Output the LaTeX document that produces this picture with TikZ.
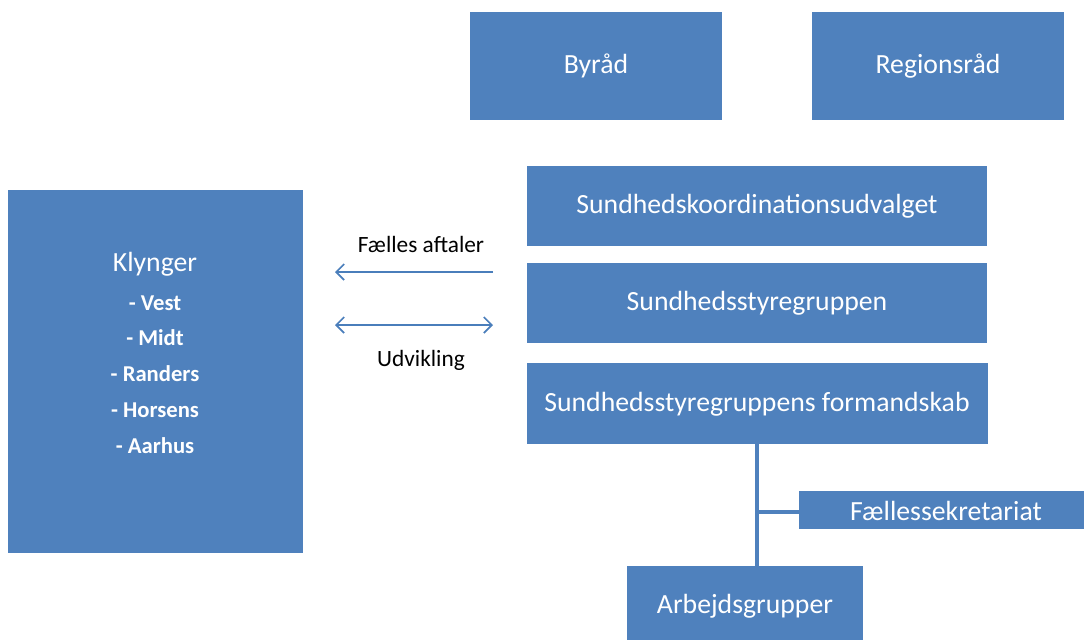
\documentclass[tikz,border=0pt]{standalone}
\usepackage{fontspec}
\setmainfont{Carlito}
\usetikzlibrary{fit,arrows.meta}
\definecolor{boxblue}{HTML}{4F81BD}
\definecolor{arrowblue}{HTML}{4A7EBB}
\tikzset{
  box/.style={fill=boxblue, draw=none, inner sep=0pt, outer sep=0pt},
  btxt/.style={text=white, inner sep=0pt, font=\fontsize{20.8}{24}\selectfont},
  itxt/.style={text=white, inner sep=0pt, font=\fontsize{17}{20}\selectfont\bfseries},
  conn/.style={draw=boxblue, line width=2.7pt},
  relarrow/.style={draw=arrowblue, line width=1.3pt, -{Straight Barb[length=6pt,width=12pt]}},
  relboth/.style={draw=arrowblue, line width=1.3pt, {Straight Barb[length=6pt,width=12pt]}-{Straight Barb[length=6pt,width=12pt]}},
  lbl/.style={font=\fontsize{17.5}{20}\selectfont, text=black, inner sep=0pt}
}
\begin{document}
\begin{tikzpicture}[x=0.75pt,y=-0.75pt]
\useasboundingbox (0,0) rectangle (1084,640);
\node[box, fit={(470,12) (722,120)}] (byraad) {};
\node[btxt] (byraadt) at (596,66) {Byråd};
\node[box, fit={(812,12) (1064,120)}] (region) {};
\node[btxt] (regiont) at (938,66) {Regionsråd};
\node[box, fit={(8,190) (303,553)}] (klynger) {};
\node[btxt] (klt) at (155,264) {Klynger};
\node[itxt] (k1) at (155,303) {- Vest};
\node[itxt] (k2) at (155,338) {- Midt};
\node[itxt] (k3) at (155,374) {- Randers};
\node[itxt] (k4) at (155,410) {- Horsens};
\node[itxt] (k5) at (155,446) {- Aarhus};
\node[box, fit={(527,166) (987,246)}] (sku) {};
\node[btxt] (skut) at (757,206) {Sundhedskoordinationsudvalget};
\node[box, fit={(527,263) (987,343)}] (ssg) {};
\node[btxt] (ssgt) at (757,303) {Sundhedsstyregruppen};
\node[box, fit={(527,363) (988,444)}] (form) {};
\node[btxt] (formt) at (757,404) {Sundhedsstyregruppens formandskab};
\node[box, fit={(799,491) (1084,529)}] (faelles) {};
\node[btxt] (faellest) at (946,511) {Fællessekretariat};
\node[box, fit={(627,566) (863,640)}] (arb) {};
\node[btxt] (arbt) at (745,606) {Arbejdsgrupper};
\coordinate (branch) at (757,512);
\draw[conn] (form.south -| branch) -- (arb.north -| branch);
\draw[conn] (branch) -- (branch -| faelles.west);
% relation arrows
\coordinate (a1r) at (493,272);
\coordinate (a1l) at (335,272);
\coordinate (a2r) at (493,325);
\coordinate (a2l) at (335,325);
\draw[relarrow] (a1r) -- (a1l);
\draw[relboth] (a2l) -- (a2r);
\node[lbl] (fa) at (421,244) {Fælles aftaler};
\node[lbl] (ud) at (421,360) {Udvikling};
\end{tikzpicture}
\end{document}
